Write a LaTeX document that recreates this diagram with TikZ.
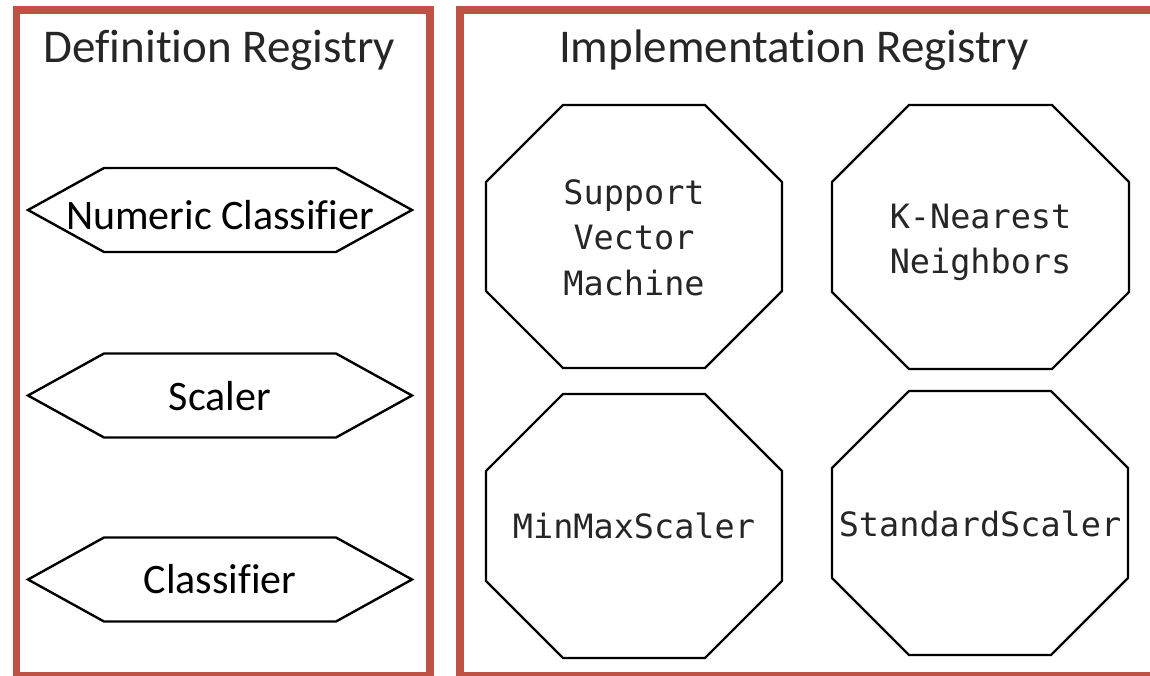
\documentclass[tikz,border=0pt]{standalone}
\usepackage{fontspec}
\setmainfont{Carlito}[Ligatures=NoCommon]
\newfontfamily\monof{DejaVu Sans Mono}
\definecolor{frame}{RGB}{190,82,68}
\definecolor{txtgray}{RGB}{38,38,38}
\tikzset{
  panel/.style={draw=frame, line width=7.5pt},
  title/.style={anchor=base, inner sep=0pt, text=txtgray, font=\fontsize{47}{56}\selectfont},
  defshape/.style={draw=black, line width=2.4pt, line join=miter},
  deftext/.style={anchor=base, inner sep=0pt, text=black, font=\fontsize{42}{50}\selectfont},
  impltext/.style={inner sep=0pt, align=center, text=txtgray, font=\monof\fontsize{33.5}{45.5}\selectfont},
}
\newcommand\hexbox[2]{% #1 = name, #2 = center y
  \draw[defshape] (28,#2) -- (104,#2-42) -- (336,#2-42) -- (412,#2) -- (336,#2+42) -- (104,#2+42) -- cycle;
}
\newcommand\octbox[4]{% x1,y1,x2,y2
  \draw[defshape] (#1+77,#2) -- (#3-77,#2) -- (#3,#2+77) -- (#3,#4-77) -- (#3-77,#4) -- (#1+77,#4) -- (#1,#4-77) -- (#1,#2+77) -- cycle;
}
\begin{document}
\begin{tikzpicture}[x=1pt, y=-1pt]
\useasboundingbox (0,0) rectangle (1150,676);
\clip (0,0) rectangle (1150,676);
\fill[white] (0,0) rectangle (1150,676);
% panels
\draw[panel] (16.5,10) rectangle (430,675.5);
\draw[panel] (460,10) rectangle (1165,675.5);
\node[title] (deftitle) at (219.5,63) {Definition Registry};
\node[title] (impltitle) at (794,63) {Implementation Registry};
% definition hexagons
\hexbox{numhex}{210}
\hexbox{scalhex}{395.5}
\hexbox{clashex}{579.5}
\node[deftext] (numeric) at (220,230) {Numeric Classifier};
\node[deftext] (scaler) at (220,410) {Scaler};
\node[deftext] (classifier) at (220,593) {Classifier};
% implementation octagons
\octbox{486}{105}{782}{368}
\octbox{832}{105}{1129}{369}
\octbox{486}{394}{782}{658}
\octbox{832}{391}{1128}{655}
\node[impltext] (svm) at (634,237.5) {Support\\Vector\\Machine};
\node[impltext] (knn) at (980.5,242.5) {K-Nearest\\Neighbors};
\node[impltext, anchor=base] (minmax) at (634,538) {MinMaxScaler};
\node[impltext, anchor=base] (standard) at (980,536) {StandardScaler};
\end{tikzpicture}
\end{document}
